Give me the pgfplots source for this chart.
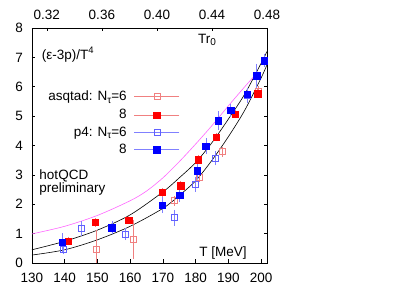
\documentclass[border=0pt]{standalone}
\usepackage{pgfplots}
\pgfplotsset{compat=1.18}
\usepackage{fontspec}
\setmainfont{Liberation Sans}
\newcommand\fs{\fontsize{13.5}{15}\selectfont}
\newcommand\sub[1]{\raisebox{-0.35ex}{\fontsize{10}{10}\selectfont #1}}
\definecolor{lred}{HTML}{F08080}
\definecolor{lblue}{HTML}{8080FF}
\definecolor{oblue}{HTML}{6060FF}
\definecolor{mag}{HTML}{FF66FF}
\begin{document}
\begin{tikzpicture}
\useasboundingbox (-32pt,-28pt) rectangle (383pt,263pt);
\begin{axis}[
  at={(0,0)}, anchor=south west,
  scale only axis, width=235pt, height=235pt,
  xmin=130, xmax=201.8, ymin=0, ymax=8,
  xtick={130,140,...,200}, ytick={0,1,...,8},
  xtick pos=left, ytick pos=both, tick align=inside,
  major tick length=3.5pt,
  tick label style={font=\fs, inner sep=1pt},
  xticklabel style={yshift=-9pt},
  yticklabel style={xshift=-8pt},
  /pgf/number format/assume math mode=true,
  axis line style={line width=0.6pt},
  tick style={line width=0.5pt, black},
  error bars/error bar style={line width=0.5pt},
  error bars/error mark options={line width=0.5pt, mark size=2pt},
]
% fit curves
\addplot[black, line width=0.6pt, smooth] coordinates {
(130,0.45) (140,0.74) (150,1.12) (160,1.64) (170,2.42) (175,2.90) (180,3.42) (185,4.10) (190,4.90) (195,5.75) (200,6.80) (201.8,7.20)};
\addplot[black, line width=0.6pt, smooth] coordinates {
(130,0.27) (140,0.45) (150,0.79) (160,1.25) (170,1.86) (175,2.30) (180,2.80) (185,3.50) (190,4.30) (195,5.20) (200,6.30) (201.8,6.75)};
\addplot[mag, line width=0.6pt, smooth] coordinates {
(130,0.99) (140,1.25) (150,1.62) (160,2.12) (165,2.45) (170,2.90) (175,3.45) (180,4.05) (185,4.68) (190,5.35) (195,6.00) (199,6.50)};
% asqtad Nt=6
\addplot[lred, only marks, mark=square, mark size=3pt, mark options={line width=0.6pt},
  error bars/.cd, y dir=both, y explicit] coordinates {
(149.5,0.48) +- (0,0.56)
(160.9,0.81) +- (0,0.60)
(173.6,2.12) +- (0,0.10)
(181.0,2.92) +- (0,0.10)
(188.2,3.79) +- (0,0.10)
(199.2,5.86) +- (0,0.10)};
% p4 Nt=6
\addplot[lblue, only marks, mark=square, mark size=3pt, mark options={line width=0.6pt, draw=oblue},
  error bars/.cd, y dir=both, y explicit] coordinates {
(139.6,0.48) +- (0,0.12)
(145.0,1.18) +- (0,0.19)
(158.5,0.99) +- (0,0.14)
(173.6,1.54) +- (0,0.21)
(179.8,2.68) +- (0,0.18)
(186.0,3.57) +- (0,0.18)
(195.8,5.70) +- (0,0.20)};
% asqtad Nt=8
\addplot[lred, only marks, mark=square*, mark size=3.2pt, mark options={fill=red, draw=red},
  error bars/.cd, y dir=both, y explicit] coordinates {
(141.0,0.75) +- (0,0.08)
(149.3,1.38) +- (0,0.08)
(159.5,1.46) +- (0,0.08)
(169.8,2.41) +- (0,0.08)
(175.4,2.63) +- (0,0.08)
(180.8,3.52) +- (0,0.08)
(186.3,4.29) +- (0,0.08)
(192.1,5.07) +- (0,0.08)
(198.9,5.76) +- (0,0.08)};
% p4 Nt=8
\addplot[lblue, only marks, mark=square*, mark size=3.2pt, mark options={fill=blue, draw=blue},
  error bars/.cd, y dir=both, y explicit] coordinates {
(139.3,0.70) +- (0,0.25)
(154.4,1.20) +- (0,0.15)
(169.8,1.97) +- (0,0.20)
(175.1,2.31) +- (0,0.18)
(180.4,3.14) +- (0,0.20)
(183.1,3.98) +- (0,0.20)
(186.8,4.84) +- (0,0.25)
(190.7,5.20) +- (0,0.15)
(195.8,5.74) +- (0,0.15)
(198.6,6.37) +- (0,0.35)
(200.9,6.89) +- (0,0.15)};
% legend markers
\addplot[lred, only marks, mark=square, mark size=3pt, mark options={line width=0.6pt},
  error bars/.cd, x dir=both, x explicit] coordinates {(168.15,5.66) +- (6.25,0)};
\addplot[lred, only marks, mark=square*, mark size=3.2pt, mark options={fill=red, draw=red},
  error bars/.cd, x dir=both, x explicit] coordinates {(168.15,5.04) +- (6.25,0)};
\addplot[lblue, only marks, mark=square, mark size=3pt, mark options={line width=0.6pt, draw=oblue},
  error bars/.cd, x dir=both, x explicit] coordinates {(168.15,4.45) +- (6.25,0)};
\addplot[lblue, only marks, mark=square*, mark size=3.2pt, mark options={fill=blue, draw=blue},
  error bars/.cd, x dir=both, x explicit] coordinates {(168.15,3.86) +- (6.25,0)};
% texts
\node[anchor=base east, font=\fs, inner sep=0pt] at (rel axis cs:0.404,0.690) {asqtad: N\sub{τ}=6};
\node[anchor=base east, font=\fs, inner sep=0pt] at (rel axis cs:0.404,0.613) {8};
\node[anchor=base east, font=\fs, inner sep=0pt] at (rel axis cs:0.404,0.539) {p4: N\sub{τ}=6};
\node[anchor=base east, font=\fs, inner sep=0pt] at (rel axis cs:0.404,0.464) {8};
\node[anchor=base west, font=\fs, inner sep=0pt] at (rel axis cs:0.041,0.868) {(ε-3p)/T\textsuperscript{4}};
\node[anchor=base west, font=\fs, inner sep=0pt] at (rel axis cs:0.706,0.936) {Tr\sub{0}};
\node[anchor=base west, font=\fs, inner sep=0pt] at (rel axis cs:0.711,0.026) {T [MeV]};
\node[anchor=base west, font=\fs, inner sep=0pt] at (rel axis cs:0.031,0.357) {hotQCD};
\node[anchor=base west, font=\fs, inner sep=0pt] at (rel axis cs:0.031,0.298) {preliminary};
\end{axis}
\begin{axis}[
  at={(0,0)}, anchor=south west,
  scale only axis, width=235pt, height=235pt,
  xmin=0.309217, xmax=0.48, ymin=0, ymax=8,
  axis x line*=top, axis y line=none,
  xtick={0.32,0.36,0.40,0.44,0.48},
  xticklabel style={/pgf/number format/.cd, fixed, fixed zerofill, precision=2},
  tick align=inside, major tick length=3.5pt,
  tick label style={font=\fs, inner sep=1pt, yshift=7.5pt},
  /pgf/number format/assume math mode=true,
  axis line style={line width=0.6pt, -},
  tick style={line width=0.5pt, black},
]
\end{axis}
\end{tikzpicture}
\end{document}
